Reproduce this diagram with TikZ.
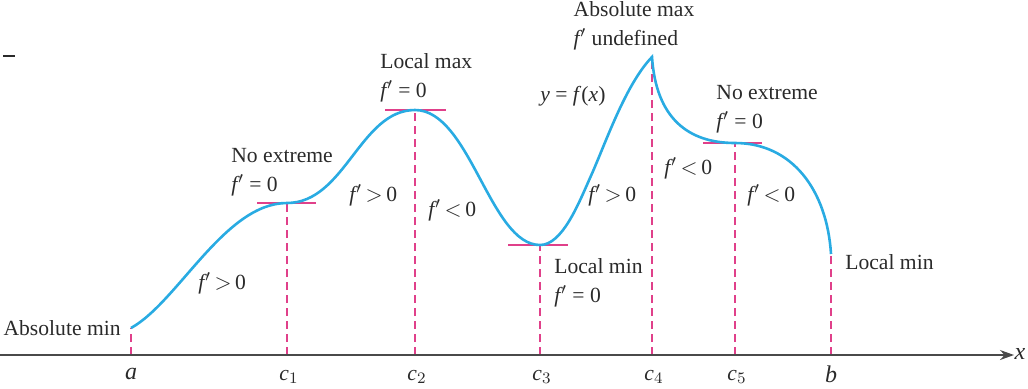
\documentclass[tikz,border=0pt]{standalone}
\usepackage{fontspec}
\setmainfont{Liberation Serif}
\usetikzlibrary{arrows.meta}
\definecolor{curvecol}{HTML}{29ABE2}
\definecolor{magcol}{HTML}{E0408A}
\definecolor{txtcol}{HTML}{2A2A2A}
\newcommand{\fpr}{\textit{f\kern0.5pt}$'$}
\begin{document}
\begin{tikzpicture}[x=0.5pt,y=-0.5pt,
  lbl/.style={text=txtcol,font=\fontsize{10.8}{12.5}\selectfont,inner sep=0pt,align=left},
  dashline/.style={magcol,dashed,dash pattern=on 4pt off 2.5pt,line width=0.6pt},
  tang/.style={magcol,line width=0.9pt},
  curve/.style={curvecol,line width=1.3pt},
  axisline/.style={txtcol!85,line width=0.7pt}]
\useasboundingbox (0,0) rectangle (1028,388);
% stray mark
\draw[txtcol,line width=0.8pt] (3,56) -- (15,56);
% points
\coordinate (pa) at (131,328);
\coordinate (p1) at (287,203);
\coordinate (p2) at (415,110);
\coordinate (p3) at (540,245);
\coordinate (p4) at (652,57);
\coordinate (p5) at (735,143);
\coordinate (pb) at (831,254);
\coordinate (xa) at (131,355);
\coordinate (x1) at (287,355);
\coordinate (x2) at (415,355);
\coordinate (x3) at (540,355);
\coordinate (x4) at (652,355);
\coordinate (x5) at (735,355);
\coordinate (xb) at (831,355);
\coordinate (ax0) at (0,355);
\coordinate (ax1) at (1014,355);
% dashed verticals
\foreach \p/\q in {xa/pa,x1/p1,x2/p2,x3/p3,x4/p4,x5/p5,xb/pb}
  \draw[dashline] (\p) -- (\q);
% axis
\draw[axisline,-{Stealth[length=7pt,width=5pt]}] (ax0) -- (ax1);
% tangent segments
\draw[tang] (257,203) -- (316,203);
\draw[tang] (385,110) -- (446,110);
\draw[tang] (508,245) -- (568,245);
\draw[tang] (703,143) -- (762,143);
% curve
\draw[curve] (pa) .. controls (178,302) and (225,203) .. (p1)
  .. controls (345,203) and (360,110) .. (p2)
  .. controls (470,110) and (490,245) .. (p3)
  .. controls (562,245) and (578,205) .. (590,178)
  .. controls (605,145) and (625,85) .. (p4)
  .. controls (656,118) and (688,143) .. (p5)
  .. controls (792,143) and (827,190) .. (pb);
% axis labels
\node[lbl,font=\fontsize{12}{14}\selectfont\itshape] (la) at (131,374) {a};
\node[lbl] (l1) at (289,377) {\textit{c}$_1$};
\node[lbl] (l2) at (417,377) {\textit{c}$_2$};
\node[lbl] (l3) at (542,377) {\textit{c}$_3$};
\node[lbl] (l4) at (654,377) {\textit{c}$_4$};
\node[lbl] (l5) at (737,377) {\textit{c}$_5$};
\node[lbl,font=\fontsize{12}{14}\selectfont\itshape] (lb) at (831,374) {b};
\node[lbl,font=\fontsize{12}{14}\selectfont\itshape] (lx) at (1020,354) {x};
% annotations
\node[lbl,anchor=east] (amin) at (121,328) {Absolute min};
\node[lbl,anchor=south west] (ne1) at (231,196) {No extreme\\[2pt]\fpr\ = 0};
\node[lbl,anchor=west] (g1) at (198,283) {\fpr\,$>$\,0};
\node[lbl,anchor=south west] (lmax) at (380,102) {Local max\\[2pt]\fpr\ = 0};
\node[lbl,anchor=west] (g2) at (349,195) {\fpr\,$>$\,0};
\node[lbl,anchor=west] (s1) at (428,210) {\fpr\,$<$\,0};
\node[lbl,anchor=north west] (lmin) at (554,258) {Local min\\[2pt]\fpr\ = 0};
\node[lbl,anchor=west] (yfx) at (540,96) {\textit{y} = \textit{f}(\textit{x})};
\node[lbl,anchor=west] (g3) at (588,195) {\fpr\,$>$\,0};
\node[lbl,anchor=south] (amax) at (634,50) {Absolute max\\[2pt]\fpr\ undefined};
\node[lbl,anchor=south west] (ne2) at (716,133) {No extreme\\[2pt]\fpr\ = 0};
\node[lbl,anchor=west] (s2) at (664,168) {\fpr\,$<$\,0};
\node[lbl,anchor=west] (s3) at (747,195) {\fpr\,$<$\,0};
\node[lbl,anchor=west] (lmin2) at (845,262) {Local min};
\end{tikzpicture}
\end{document}
